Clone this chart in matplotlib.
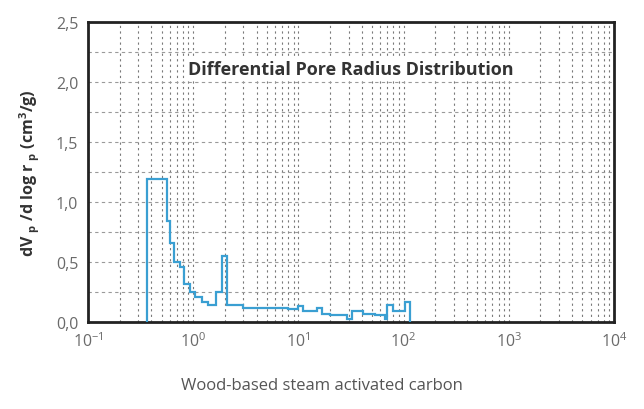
import matplotlib
matplotlib.use("Agg")
import matplotlib.pyplot as plt
import matplotlib.ticker as ticker

# bin edges (pore radius, nm) and dV/dlog r values
edges = [0.366, 0.567, 0.60, 0.657, 0.75, 0.82, 0.93, 1.04, 1.20, 1.39,
         1.65, 1.87, 2.11, 3.0, 8.0, 10, 11.1, 14.9, 16.6, 20, 28.7, 32,
         41, 53, 66.5, 69, 80, 103, 115]
values = [1.19, 0.845, 0.66, 0.50, 0.46, 0.32, 0.25, 0.21, 0.17, 0.14,
          0.25, 0.55, 0.14, 0.12, 0.11, 0.13, 0.095, 0.115, 0.07, 0.055,
          0.025, 0.095, 0.07, 0.055, 0.025, 0.14, 0.095, 0.165]

yticks = [0.0, 0.5, 1.0, 1.5, 2.0, 2.5]
ytick_labels = ["0,0", "0,5", "1,0", "1,5", "2,0", "2,5"]
xticks = [0.1, 1, 10, 100, 1000, 10000]
xtick_labels = ["$10^{-1}$", "$10^{0}$", "$10^{1}$", "$10^{2}$", "$10^{3}$", "$10^{4}$"]

plt.rcParams['font.family'] = ['Open Sans', 'DejaVu Sans']
plt.rcParams['mathtext.fontset'] = 'custom'
plt.rcParams['mathtext.rm'] = 'Open Sans'
plt.rcParams['mathtext.bf'] = 'Open Sans:bold'

fig = plt.figure(figsize=(6.44, 4.10), dpi=100)
ax = fig.add_axes([0.1366, 0.2122, 0.8168, 0.7317])

ax.stairs(values, edges, baseline=0, color="#3a9fd2", linewidth=1.6, zorder=3)

ax.set_xscale("log")
ax.set_xlim(0.1, 10000)
ax.set_ylim(0, 2.5)

# grid
ax.yaxis.set_minor_locator(ticker.MultipleLocator(0.25))
ax.xaxis.set_minor_locator(ticker.LogLocator(base=10, subs=range(2, 10)))
ax.grid(True, which="both", axis="x", color="#7a7a7a", linestyle=(0, (2, 3)), linewidth=0.8)
ax.grid(True, which="both", axis="y", color="#9a9a9a", linestyle=(0, (3, 3)), linewidth=0.8)
ax.tick_params(which="both", length=0)

ax.set_yticks(yticks)
ax.set_yticklabels(ytick_labels)
ax.set_xticks(xticks)
ax.set_xticklabels(xtick_labels)
ax.xaxis.set_minor_formatter(ticker.NullFormatter())
ax.tick_params(axis="both", labelsize=11.5, labelcolor="#6a6a6a", pad=7)

for s in ax.spines.values():
    s.set_linewidth(2)
    s.set_color("#222222")

ax.set_ylabel("dV $_{\\mathbf{p}}$ /d log r $_{\\mathbf{p}}$ (cm$^{\\mathbf{3}}$/g)",
              fontsize=11.5, fontweight="bold", color="#333333", labelpad=10)

ax.text(0.5, 0.845, "Differential Pore Radius Distribution", transform=ax.transAxes,
        ha="center", va="center", fontsize=13, fontweight="bold", color="#333333",
        bbox=dict(facecolor="white", edgecolor="none", pad=1))

fig.text(0.5, 0.058, "Wood-based steam activated carbon", ha="center", va="center",
         fontsize=12, color="#555555")

fig.savefig("out.png", dpi=100)
